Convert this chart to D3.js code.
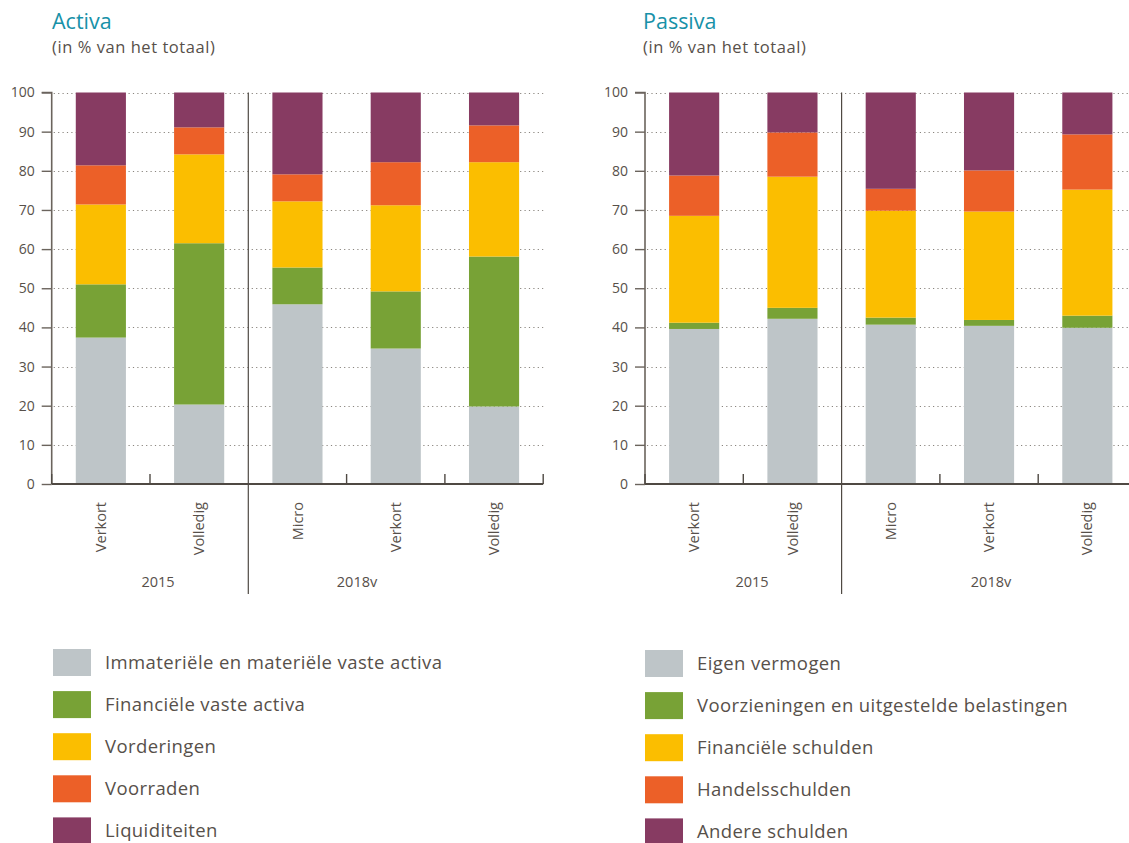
<!DOCTYPE html>
<html>
<head>
<meta charset="utf-8">
<script src="https://cdn.jsdelivr.net/npm/d3@7/dist/d3.min.js"></script>
<style>
  html, body { margin: 0; padding: 0; background: #fff; }
  svg { display: block; font-family: "Open Sans", "Noto Sans", sans-serif; }
</style>
</head>
<body>
<svg id="chart" width="1129" height="843"></svg>
<script>
// ---------- DATA ----------
const categories = ["Verkort", "Volledig", "Micro", "Verkort", "Volledig"];
const periods = ["2015", "2015", "2018v", "2018v", "2018v"];
const periodLabels = ["2015", "2018v"];
const yTicks = [0, 10, 20, 30, 40, 50, 60, 70, 80, 90, 100];

const activaSeries = [
  "Immateriële en materiële vaste activa",
  "Financiële vaste activa",
  "Vorderingen",
  "Voorraden",
  "Liquiditeiten"
];
const activaImmaterieel = [37.4, 20.3, 45.9, 34.6, 19.8];
const activaFinancieel  = [13.6, 41.2, 9.4, 14.6, 38.3];
const activaVorderingen = [20.4, 22.7, 16.9, 22.0, 24.1];
const activaVoorraden   = [10.0, 6.9, 6.9, 11.0, 9.4];
const activaLiquide     = [18.6, 8.9, 20.9, 17.8, 8.4];

const passivaSeries = [
  "Eigen vermogen",
  "Voorzieningen en uitgestelde belastingen",
  "Financiële schulden",
  "Handelsschulden",
  "Andere schulden"
];
const passivaEigen       = [39.6, 42.2, 40.7, 40.4, 39.9];
const passivaVoorziening = [1.6, 2.8, 1.8, 1.5, 3.1];
const passivaFinancieel  = [27.3, 33.5, 27.3, 27.7, 32.2];
const passivaHandel      = [10.3, 11.3, 5.6, 10.5, 14.1];
const passivaAndere      = [21.2, 10.2, 24.6, 19.9, 10.7];

const seriesColors = ["#bec5c8", "#78a236", "#fbbe00", "#ec6028", "#873b62"];

// ---------- DRAW ----------
const svg = d3.select("#chart");
const textColor = "#57504a";
const axisColor = "#6b645d";

function buildRows(seriesValues) {
  return categories.map((c, i) => {
    const row = { key: "c" + i, cat: c, period: periods[i] };
    seriesValues.forEach((vals, s) => { row["s" + s] = vals[i]; });
    return row;
  });
}

function drawChart(cfg) {
  const g = svg.append("g");
  const keys = categories.map((c, i) => "c" + i);
  const x = d3.scaleBand().domain(keys).range([cfg.x0, cfg.x0 + 5 * 98.3]).paddingInner(0.49).paddingOuter(0.245);
  const y = d3.scaleLinear().domain([0, 100]).range([484, 92.5]);

  // title
  g.append("text").attr("x", cfg.titleX).attr("y", 29)
    .attr("fill", "#1791a8").style("font-size", "21.5px").text(cfg.title);
  g.append("text").attr("x", cfg.titleX).attr("y", 53)
    .attr("fill", textColor).style("font-size", "16.5px").style("letter-spacing", "0.55px")
    .text("(in % van het totaal)");

  // dotted grid
  const xEnd = Math.min(cfg.x0 + 5 * 98.3, 1129);
  g.append("g").selectAll("line").data(yTicks.filter(d => d > 0)).join("line")
    .attr("x1", cfg.x0 + 2).attr("x2", xEnd)
    .attr("y1", d => Math.round(y(d)) + 0.5).attr("y2", d => Math.round(y(d)) + 0.5)
    .attr("stroke", "#8a857f").attr("stroke-width", 1.2)
    .attr("stroke-dasharray", "1.2,3.2");

  // stacked bars
  const rows = buildRows(cfg.values);
  const stack = d3.stack().keys(cfg.values.map((v, s) => "s" + s))(rows);
  g.append("g").selectAll("g").data(stack).join("g")
    .attr("fill", (d, i) => seriesColors[i])
    .selectAll("rect").data(d => d).join("rect")
    .attr("x", d => x(d.data.key))
    .attr("width", x.bandwidth())
    .attr("y", d => y(d[1]))
    .attr("height", d => y(d[0]) - y(d[1]));

  // y axis
  const yAxis = d3.axisLeft(y).tickValues(yTicks).tickSize(10).tickPadding(7);
  const ya = g.append("g").attr("transform", `translate(${cfg.x0},0)`).call(yAxis);
  ya.select(".domain").attr("stroke", axisColor).attr("stroke-width", 1.6).attr("d", `M-10,${y(100)}H0V${y(0)}`);
  ya.selectAll(".tick line").attr("stroke", axisColor).attr("stroke-width", 1.4);
  ya.selectAll(".tick text").attr("fill", textColor).style("font-size", "14px").style("font-family", "Open Sans");

  // baseline + category boundary ticks (upward)
  g.append("line").attr("x1", cfg.x0).attr("x2", xEnd)
    .attr("y1", y(0)).attr("y2", y(0))
    .attr("stroke", "#4f4943").attr("stroke-width", 1.8);
  const bounds = d3.range(6).map(i => cfg.x0 + i * x.step());
  g.append("g").selectAll("line").data(bounds.filter((b, i) => i !== 2)).join("line")
    .attr("x1", d => d).attr("x2", d => d)
    .attr("y1", y(0)).attr("y2", y(0) - 10)
    .attr("stroke", "#4f4943").attr("stroke-width", 1.4);

  // period separator
  g.append("line").attr("x1", bounds[2]).attr("x2", bounds[2])
    .attr("y1", y(100)).attr("y2", 594)
    .attr("stroke", "#4f4943").attr("stroke-width", 1.2);

  // category labels (rotated)
  g.append("g").selectAll("text").data(rows).join("text")
    .attr("transform", d => `translate(${x(d.key) + x.bandwidth() / 2},502) rotate(-90)`)
    .attr("text-anchor", "end").attr("dy", "0.35em")
    .attr("fill", textColor).style("font-size", "14.5px")
    .text(d => d.cat);

  // period labels
  g.append("g").selectAll("text").data(periodLabels).join("text")
    .attr("x", (d, i) => cfg.periodX[i]).attr("y", 587)
    .attr("text-anchor", "middle")
    .attr("fill", textColor).style("font-size", "14.5px")
    .text(d => d);

  // legend
  const lg = g.append("g").selectAll("g").data(cfg.series).join("g")
    .attr("transform", (d, i) => `translate(${cfg.legendX},${cfg.legendY + i * 42.1})`);
  lg.append("rect").attr("width", 38).attr("height", 27).attr("fill", (d, i) => seriesColors[i]);
  lg.append("text").attr("x", 52).attr("y", 19.5)
    .attr("fill", textColor).style("font-size", "18.5px").style("letter-spacing", "0.4px")
    .text(d => d);
}

drawChart({
  title: "Activa", titleX: 52, x0: 51.7,
  values: [activaImmaterieel, activaFinancieel, activaVorderingen, activaVoorraden, activaLiquide],
  series: activaSeries, periodX: [158, 357], legendX: 53, legendY: 649
});
drawChart({
  title: "Passiva", titleX: 643, x0: 645,
  values: [passivaEigen, passivaVoorziening, passivaFinancieel, passivaHandel, passivaAndere],
  series: passivaSeries, periodX: [752, 991], legendX: 645, legendY: 650
});
</script>
</body>
</html>
